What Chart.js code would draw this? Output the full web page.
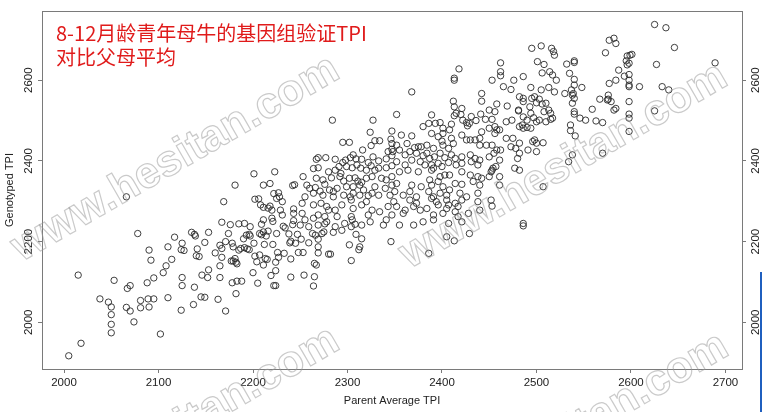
<!DOCTYPE html>
<html>
<head>
<meta charset="utf-8">
<script src="https://cdn.jsdelivr.net/npm/chart.js@4.4.1/dist/chart.umd.min.js"></script>
<style>
  html, body { margin: 0; padding: 0; background: #fff; }
  #wrap { width: 763px; height: 412px; }
</style>
</head>
<body>
<div id="wrap"><canvas id="tpi" width="763" height="412"></canvas></div>
<script>
// Parent average TPI (x) and genotyped TPI (y), one cow per position
const parentAvg = [
  2005,2018,2015,2053,2038,2047,2050,2050,2050,2050,
  2066,2070,2067,2070,2074,2078,2081,2081,2088,2089,
  2090,2095,2090,2092,2095,2102,2105,2110,2108,2110,
  2114,2117,2124,2125,2125,2125,2124,2127,2135,2138,
  2139,2138,2137,2141,2140,2143,2146,2145,2149,2149,
  2153,2153,2152,2160,2163,2165,2167,2165,2165,2167,
  2167,2169,2171,2171,2176,2174,2178,2179,2177,2179,
  2181,2182,2183,2178,2182,2183,2188,2185,2185,2187,
  2191,2190,2193,2191,2194,2197,2196,2197,2196,2201,
  2200,2202,2204,2205,2207,2209,2211,2209,2211,2207,
  2211,2212,2214,2216,2216,2218,2213,2215,2220,2221,
  2219,2222,2224,2224,2221,2225,2226,2227,2224,2229,
  2231,2232,2234,2233,2238,2239,2240,2240,2240,2243,
  2242,2245,2247,2248,2253,2254,2251,
  2259,2263,2266,2265,2267,2265,2264,2269,
  2269,2269,2273,2275,2280,2282,2285,
  2294,2302,2304,2309,2312,2313,2315,
  2066,2201,2223,2181,2211,2218,2202,2206,2208,2211,
  2222,2227,2225,2228,2231,2220,2242,2244,
  2243,2243,2368,2412,2413,2421,
  2415,2420,2413,2352,2389,2284,2327,2431,2436,2426,
  2429,2422,2393,2398,2386,2410,
  2405,2429,2346,2413,2495,
  2505,2516,2518,2519,2462,2501,2508,2532,2540,2418,
  2462,2462,2506,2514,2517,2521,2535,2540,2540,2548,
  2413,2413,2453,2465,2473,2476,2486,2494,2505,2513,
  2519,2530,2537,2538,2540,2539,2442,2442,2458,2456,
  2450,2441,2469,2481,2486,2482,2486,2495,2498,2500,
  2481,2493,2494,2503,2506,2510,2513,2508,2515,2517,
  2486,2490,2497,2500,2503,2510,2515,2468,2474,2482,
  2485,2490,2494,2486,2453,2446,2456,2458,2450,
  2456,2461,2468,2447,2453,2458,2462,2475,
  2473,2482,2478,2482,2491,2496,2498,2500,2500,2507,
  2480,2477,2482,2538,2534,2570,2450,2453,
  2457,2461,2461,2507,2577,2582,2573,2584,2577,2584,
  2625,2637,2646,2689,2627,2595,2596,2599,2601,2598,
  2596,2587,2593,2598,2598,2598,2598,2609,2633,2640,
  2576,2576,2567,2575,2579,2598,2582,2584,2559,2540,
  2540,2546,2552,2563,2570,2598,2598,2598,2625,2540,
  2538,2536,2536,2541,2453,2452,2486,2486,2386,2450,
  2455,2461,2454,2452,
  // dense centre, left half
  2324,2347,2295,2302,2329,2334,2325,2346,2316,2343,
  2347,2269,2267,2277,2287,2295,2298,2303,2306,2309,
  2315,2322,2327,2333,2341,2347,2264,2269,2280,2287,
  2291,2293,2299,2305,2310,2314,2320,2325,2329,2333,
  2341,2347,2253,2267,2274,2283,2292,2296,2302,2308,
  2311,2315,2320,2326,2336,2341,2347,2257,2260,2266,
  2276,2281,2289,2299,2306,2313,2317,2329,2340,2347,
  2255,2264,2271,2274,2285,2285,2296,2303,2306,2313,
  2322,2326,2333,2345,2252,2264,2272,2278,2280,2287,
  2294,2304,2306,2315,2320,2326,2334,2343,2349,2252,
  2255,2264,2269,2276,2278,2289,2297,2304,2305,2308,
  2322,2324,2341,2347,2250,2259,2269,2276,2287,2304,
  2315,2338,
  // dense centre, right half
  2380,2401,2408,2427,2442,2357,2368,2389,2396,2401,
  2410,2421,2430,2435,2440,2347,2352,2363,2371,2375,
  2378,2384,2391,2400,2401,2407,2412,2426,2440,2348,
  2355,2361,2366,2373,2380,2384,2387,2392,2398,2403,
  2410,2414,2421,2430,2435,2440,2352,2361,2368,2377,
  2382,2389,2391,2396,2400,2407,2415,2421,2431,2438,
  2355,2364,2375,2389,2398,2403,2408,2421,2430,
  2438,2442,2352,2368,2378,2387,2389,2396,2401,
  2414,2421,2433,2440,2350,2359,2366,2373,2386,2391,
  2398,2405,2408,2419,2426,2438,2352,2366,2370,
  2373,2389,2394,2396,2405,2407,2414,2421,2417,2438,
  2359,2361,2377,2384,2391,2401,2405,2414,2417,
  2428,2440,2355,2370,2380,2391,2407,2421
];
const genotypedTpi = [
  1917,1948,2117,2104,2058,2050,2038,2019,1995,1974,
  2037,2028,2084,2091,2001,2220,2054,2036,2098,2058,
  2038,2058,2179,2154,2110,1971,2123,2187,2140,2061,
  2156,2211,2030,2091,2111,2196,2180,2178,2223,2218,
  2214,2087,2044,2182,2165,2163,2117,2063,2062,2198,
  2223,2130,2111,2172,2057,2191,2183,2140,2111,2161,
  2248,2299,2028,2200,2242,2220,2196,2187,2152,2152,
  2158,2149,2145,2098,2071,2102,2102,2244,2179,2183,
  2245,2207,2216,2185,2182,2237,2218,2214,2180,2196,
  2123,2164,2150,2097,2220,2217,2224,2243,2254,2167,
  2142,2193,2214,2226,2283,2288,2158,2156,2258,2250,
  2116,2091,2091,2149,2193,2220,2173,2161,2128,2278,
  2266,2238,2234,2171,2219,2197,2201,2157,2112,2252,
  2242,2196,2218,2173,2173,2117,2206,
  2197,2220,2216,2146,2142,2113,2090,2187,
  2206,2172,2220,2224,2169,2169,2223,
  2228,2192,2153,2218,2180,2187,2207,
  2311,2368,2373,2340,2340,2344,2305,2306,2291,2285,
  2319,2321,2307,2311,2299,2278,2339,2341,
  2281,2270,2571,2548,2534,2530,
  2518,2515,2512,2515,2514,2501,2501,2510,2500,2495,
  2493,2501,2493,2495,2493,2491,
  2212,2220,2200,2202,2679,
  2685,2679,2671,2662,2643,2646,2639,2640,2648,2628,
  2621,2611,2618,2621,2613,2600,2617,2602,2588,2582,
  2605,2600,2600,2584,2577,2600,2609,2582,2576,2582,
  2571,2567,2576,2563,2555,2567,2567,2548,2541,2522,
  2526,2516,2536,2524,2555,2559,2547,2555,2559,2544,
  2526,2534,2518,2553,2541,2543,2526,2522,2518,2506,
  2509,2501,2507,2497,2501,2497,2503,2497,2501,2485,
  2489,2483,2481,2481,2503,2503,2485,2477,2481,
  2468,2477,2456,2439,2439,2427,2427,2456,
  2435,2444,2431,2419,2427,2448,2452,2444,2423,2445,
  2406,2382,2377,2415,2398,2419,2361,2377,
  2386,2361,2340,2336,2699,2704,2668,2691,2592,2600,
  2738,2730,2681,2643,2639,2648,2660,2662,2664,2642,
  2638,2625,2610,2614,2600,2588,2584,2584,2584,2576,
  2563,2553,2553,2551,2547,2547,2526,2530,2528,2522,
  2516,2506,2501,2499,2495,2516,2506,2473,2524,2644,
  2543,2489,2475,2462,2288,2303,2245,2239,2171,2410,
  2419,2402,2382,2373,
  // dense centre, left half
  2471,2474,2446,2446,2450,2450,2438,2454,2427,2423,
  2429,2408,2404,2408,2404,2396,2402,2408,2415,2405,
  2404,2396,2410,2400,2405,2413,2381,2383,2373,2377,
  2386,2369,2386,2383,2390,2382,2377,2388,2377,2382,
  2383,2388,2361,2357,2353,2358,2361,2350,2357,2358,
  2350,2347,2357,2361,2357,2353,2361,2340,2332,2334,
  2342,2328,2332,2336,2336,2340,2328,2336,2332,2340,
  2311,2320,2325,2315,2324,2311,2315,2311,2320,2315,
  2314,2320,2315,2315,2295,2291,2295,2287,2278,2278,
  2291,2303,2282,2291,2299,2278,2274,2287,2299,2270,
  2254,2258,2266,2262,2249,2262,2245,2262,2254,2243,
  2266,2249,2254,2266,2241,2237,2241,2244,2237,2237,
  2241,2241,
  // dense centre, right half
  2485,2481,2477,2487,2472,2464,2462,2468,2460,2468,
  2456,2464,2452,2452,2456,2443,2439,2443,2433,2435,
  2435,2439,2431,2449,2439,2431,2443,2452,2439,2423,
  2427,2415,2423,2419,2413,2419,2406,2410,2419,2408,
  2415,2406,2410,2415,2406,2402,2398,2390,2402,2398,
  2390,2390,2382,2394,2386,2396,2390,2394,2398,2390,
  2373,2377,2373,2377,2361,2365,2365,2373,2365,
  2361,2357,2344,2340,2336,2353,2340,2349,2336,
  2344,2342,2349,2340,2324,2315,2324,2311,2324,2311,
  2320,2315,2328,2320,2311,2320,2287,2303,2287,
  2295,2307,2299,2291,2303,2291,2295,2303,2287,2299,
  2270,2278,2278,2282,2266,2270,2282,2274,2262,
  2270,2278,2241,2241,2249,2254,2245,2249
];

const xTicks = [2000, 2100, 2200, 2300, 2400, 2500, 2600, 2700];
const yTicks = [2000, 2200, 2400, 2600];
const titleLines = ['8-12月龄青年母牛的基因组验证TPI', '对比父母平均'];
const xTitle = 'Parent Average TPI';
const yTitle = 'Genotyped TPI';
const watermark = 'www.hesitan.com';

const axisColor = '#7a7a7a';
const labelColor = '#222';
const sansFamily = '"Liberation Sans", Arial, sans-serif';

const points = parentAvg.map((x, i) => ({ x, y: genotypedTpi[i] }));

// box around the plot region (R-style frame)
const framePlugin = {
  id: 'frame',
  afterDraw(chart) {
    const { ctx, chartArea: a } = chart;
    ctx.save();
    ctx.strokeStyle = axisColor;
    ctx.lineWidth = 1;
    ctx.strokeRect(Math.round(a.left) + 0.5, Math.round(a.top) + 0.5,
      Math.round(a.right - a.left), Math.round(a.bottom - a.top));
    ctx.restore();
  }
};

// vertical tick labels on both y sides, placed with the y scale
const yLabelPlugin = {
  id: 'yLabels',
  afterDraw(chart) {
    const { ctx, chartArea: a, scales } = chart;
    ctx.save();
    ctx.font = `11.5px ${sansFamily}`;
    ctx.fillStyle = labelColor;
    ctx.textAlign = 'center';
    ctx.textBaseline = 'middle';
    yTicks.forEach(v => {
      const py = scales.y.getPixelForValue(v);
      [a.left - 13.5, a.right + 14].forEach(px => {
        ctx.save();
        ctx.translate(px, py);
        ctx.rotate(-Math.PI / 2);
        ctx.fillText(String(v), 0, 0);
        ctx.restore();
      });
    });
    ctx.restore();
  }
};

const titlePlugin = {
  id: 'redTitle',
  afterDraw(chart) {
    const { ctx } = chart;
    ctx.save();
    ctx.font = '20px "Noto Sans CJK SC", sans-serif';
    ctx.fillStyle = '#e01b1b';
    ctx.textAlign = 'left';
    ctx.textBaseline = 'middle';
    ctx.fillText(titleLines[0], 56, 33);
    ctx.fillText(titleLines[1], 56, 57);
    ctx.restore();
  }
};

// faint outlined site watermark repeated over the picture
const watermarkPlugin = {
  id: 'watermark',
  afterDraw(chart) {
    const { ctx } = chart;
    ctx.save();
    ctx.font = `bold 44px ${sansFamily}`;
    ctx.strokeStyle = 'rgba(150,150,150,0.5)';
    ctx.lineWidth = 1.2;
    ctx.textAlign = 'right';
    ctx.textBaseline = 'alphabetic';
    [[342, 77], [730, 84], [342, 348], [731, 354]].forEach(([ex, ey]) => {
      ctx.save();
      ctx.translate(ex, ey);
      ctx.rotate(-Math.PI / 6);
      ctx.strokeText(watermark, 0, 0);
      ctx.restore();
    });
    ctx.fillStyle = '#1f5fbf';
    ctx.fillRect(760, 272, 2, 140);
    ctx.restore();
  }
};

const tickGrid = { drawOnChartArea: false, drawTicks: true, tickLength: 4, color: axisColor };

new Chart(document.getElementById('tpi'), {
  type: 'scatter',
  data: {
    datasets: [{
      data: points,
      pointStyle: 'circle',
      pointRadius: 3.2,
      pointHoverRadius: 3.2,
      borderWidth: 0.9,
      borderColor: '#2a2a2a',
      backgroundColor: 'rgba(0,0,0,0)'
    }]
  },
  options: {
    responsive: false,
    animation: false,
    layout: { padding: { top: 11, left: 0, right: 0, bottom: 0 } },
    plugins: { legend: { display: false }, tooltip: { enabled: false } },
    scales: {
      x: {
        type: 'linear',
        position: 'bottom',
        min: 1976.7,
        max: 2717.5,
        afterBuildTicks: (s) => { s.ticks = xTicks.map(v => ({ value: v })); },
        afterFit: (s) => { s.height = 43; },
        grid: tickGrid,
        border: { display: true, color: axisColor },
        ticks: {
          color: labelColor,
          font: { family: sansFamily, size: 11.5 },
          padding: 3,
          maxRotation: 0,
          callback: (v) => String(v)
        },
        title: { display: true, text: xTitle, color: labelColor, font: { family: sansFamily, size: 11 }, padding: { top: 0, bottom: 4 } }
      },
      y: {
        type: 'linear',
        position: 'left',
        min: 1884.3,
        max: 2771.5,
        afterBuildTicks: (s) => { s.ticks = yTicks.map(v => ({ value: v })); },
        afterFit: (s) => { s.width = 42; },
        grid: tickGrid,
        border: { display: true, color: axisColor },
        ticks: { display: false },
        title: { display: true, text: yTitle, color: labelColor, font: { family: sansFamily, size: 11 }, padding: { top: 3, bottom: 0 } }
      },
      y2: {
        type: 'linear',
        position: 'right',
        min: 1884.3,
        max: 2771.5,
        afterBuildTicks: (s) => { s.ticks = yTicks.map(v => ({ value: v })); },
        afterFit: (s) => { s.width = 21; },
        grid: tickGrid,
        border: { display: true, color: axisColor },
        ticks: { display: false }
      }
    }
  },
  plugins: [framePlugin, yLabelPlugin, titlePlugin, watermarkPlugin]
});
</script>
</body>
</html>
